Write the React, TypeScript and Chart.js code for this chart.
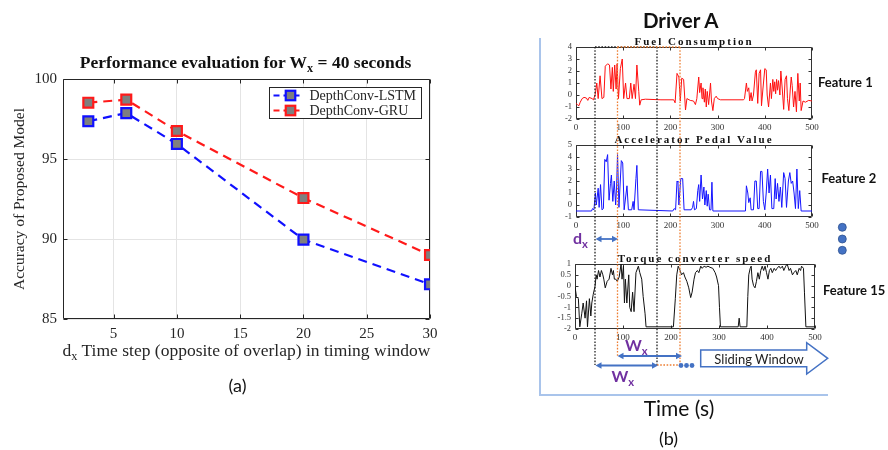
import React, { useEffect, useRef } from 'react';
import { Chart, registerables } from 'chart.js';
Chart.register(...registerables);

// ---------- Panel (a) data ----------
const dxSteps = [3, 6, 10, 20, 30];
const lstmAccuracy = [97.36, 97.87, 95.94, 89.96, 87.17];
const gruAccuracy = [98.52, 98.71, 96.75, 92.56, 89.0];
const seriesLabels = ['DepthConv-LSTM', 'DepthConv-GRU'];
const mainXTicks = [5, 10, 15, 20, 25, 30];
const mainYTicks = [85, 90, 95, 100];

// ---------- Panel (b) data ----------
const panelXTicks = [0, 100, 200, 300, 400, 500];
const fuelYTicks = [-2, -1, 0, 1, 2, 3, 4];
const pedalYTicks = [-1, 0, 1, 2, 3, 4, 5];
const torqueYTicks = [-2, -1.5, -1, -0.5, 0, 0.5, 1];

const fuelTime = [0, 3, 6, 9, 13, 17, 22, 25, 28, 34, 37, 41, 44, 47, 51, 55, 59, 62, 67, 71, 74, 77, 79, 82, 85, 87, 90, 94, 98, 101, 105, 108, 113, 116, 119, 123, 126, 129, 133, 135, 138, 147, 180, 207, 210, 214, 218, 221, 224, 228, 232, 235, 242, 249, 253, 256, 260, 262, 265, 267, 269, 272, 274, 276, 278, 281, 285, 287, 290, 293, 297, 300, 306, 355, 357, 361, 363, 366, 368, 371, 373, 376, 380, 382, 385, 388, 391, 393, 396, 400, 403, 405, 408, 412, 414, 417, 419, 421, 423, 425, 427, 429, 432, 434, 437, 440, 443, 446, 448, 451, 454, 456, 458, 461, 464, 467, 470, 473, 475, 477, 481, 486, 493, 500];
const fuelValue = [-0.7, -0.8, -0.9, -0.6, -0.3, -0.2, -0.25, -0.45, -0.2, -0.3, -0.4, 0.1, 1.0, -0.3, 1.6, -0.3, -0.2, 2.4, 2.6, 2.5, 0.5, 2.3, 0.3, 2.5, 0.5, 2.6, -0.3, 2.2, 3.0, -0.3, 1.0, -0.3, -0.3, 1.0, -0.3, 0.9, -0.3, 2.5, 0.3, -0.85, -0.4, -0.35, -0.4, -0.4, -0.65, 1.8, 1.5, -0.5, 1.4, 1.3, -1.25, -0.3, -0.45, -0.5, -0.8, -0.3, 1.5, 0.2, 1.0, -0.3, 0.6, -0.6, 0.5, -1.0, 0.3, -0.8, 1.0, -0.5, -1.3, -0.3, -0.1, -0.3, -0.4, -0.4, -0.3, 1.0, 0.3, 0.6, -0.5, 0.2, -0.5, 0.0, 1.9, 2.1, -0.7, 1.8, 2.1, -0.9, 0.5, 2.2, 2.1, 0.0, -1.0, 1.0, -0.3, 1.3, 0.3, 1.1, 0.1, 1.3, 0.4, 1.2, 0.0, 2.0, 0.5, -1.2, 1.3, 1.6, -0.3, -1.3, 0.5, 1.5, 0.8, -1.0, 0.3, -1.4, 1.8, -0.5, 1.0, -1.3, -0.5, -0.6, -0.45, -0.5];

const pedalTime = [0, 33, 35, 38, 41, 43, 47, 49, 52, 55, 58, 61, 64, 67, 70, 73, 75, 78, 81, 84, 86, 88, 91, 96, 99, 102, 108, 111, 118, 121, 123, 127, 129, 132, 205, 208, 211, 214, 216, 218, 222, 226, 229, 244, 247, 249, 251, 255, 258, 260, 262, 265, 268, 271, 273, 276, 278, 280, 283, 286, 288, 290, 359, 361, 364, 366, 369, 371, 376, 379, 382, 385, 388, 391, 394, 397, 400, 403, 406, 409, 412, 415, 419, 422, 424, 427, 430, 433, 436, 440, 443, 446, 450, 453, 456, 459, 462, 465, 468, 471, 474, 477, 500];
const pedalValue = [-0.5, -0.5, -0.3, -0.4, 1.0, 0.0, 1.4, -0.2, 1.7, -0.4, -0.3, 3.8, 3.6, 4.2, 0.4, 1.8, 2.5, 0.3, 2.0, 0.0, 1.5, 4.2, -0.2, 3.7, 3.5, -0.4, 1.6, -0.4, -0.4, 0.3, -0.4, 2.2, 3.3, -0.4, -0.5, -0.3, -0.4, 2.0, 1.9, 0.0, 2.2, 2.2, -0.4, -0.4, -0.2, 0.3, -0.4, -0.3, 1.2, 1.7, 0.3, 2.5, 0.5, 1.5, 0.0, 1.2, -0.1, 0.9, -0.4, -0.4, 1.9, -0.5, -0.5, 1.6, 1.0, 0.2, 0.6, -0.4, -0.4, 2.0, 2.0, -0.3, -0.3, 2.8, 2.8, 0.3, -0.4, 1.0, 3.0, 1.0, 2.5, -0.3, -0.3, 2.2, 0.5, 1.8, 0.3, 1.5, -0.2, 2.7, 2.2, -0.2, 2.0, 2.7, 1.8, 2.0, 1.0, -0.3, 3.0, -0.3, 1.2, -0.5, -0.5];

const torqueTime = [0, 3, 7, 10, 14, 17, 21, 24, 26, 30, 33, 35, 38, 42, 44, 46, 49, 52, 55, 58, 60, 63, 67, 71, 75, 78, 80, 82, 85, 88, 92, 96, 98, 101, 103, 105, 108, 112, 114, 117, 120, 123, 127, 132, 135, 139, 142, 146, 148, 205, 209, 212, 215, 219, 222, 226, 229, 233, 237, 241, 244, 248, 251, 255, 258, 262, 265, 269, 273, 277, 281, 287, 292, 295, 299, 301, 303, 340, 342, 344, 358, 360, 362, 365, 367, 369, 372, 375, 378, 381, 384, 387, 390, 393, 396, 399, 402, 405, 408, 411, 415, 418, 421, 425, 428, 432, 435, 439, 442, 446, 449, 453, 456, 460, 463, 467, 470, 472, 476, 478, 481, 500];
const torqueValue = [-0.05, -0.5, -0.6, -1.9, -1.3, -0.8, -1.5, -0.7, -1.9, -0.6, -1.4, -0.8, -0.4, 0.0, 0.5, 0.3, 0.7, 0.4, 0.7, 0.5, 0.3, -0.1, 0.2, 0.3, 0.8, 0.5, 0.7, 0.3, 0.3, 0.2, 0.4, 1.0, 0.3, 0.9, -0.8, 0.3, -0.8, 0.5, -1.0, -1.2, -0.3, -1.2, 0.6, 0.9, 0.6, 0.3, -0.5, -1.3, -1.9, -1.9, -0.6, 0.5, 0.9, 0.7, 0.5, 0.6, 0.4, 0.2, -0.1, -0.55, -0.3, 0.3, 0.6, 0.7, 0.6, 0.9, 0.8, 0.9, 0.85, 0.9, 0.85, 0.8, 0.6, 0.4, 0.0, -1.0, -1.9, -1.9, -1.5, -1.9, -1.9, -0.5, 0.5, 0.8, 0.9, 0.3, 0.0, -0.1, 0.2, 0.6, 0.3, 0.7, 0.9, 0.7, 0.9, 0.6, 0.3, 0.7, 0.8, 0.6, 0.8, 0.7, 0.8, 0.9, 0.8, 0.9, 0.7, 0.9, 1.0, 0.7, 0.8, 0.5, 0.6, 0.7, 0.5, 0.8, 0.7, 0.9, 0.8, -0.3, -1.9, -1.9];

const pts = (xs: number[], ys: number[]) => xs.map((x, i) => ({ x, y: ys[i] }));

// ---------- plugins ----------
const boxPlugin = {
  id: 'boxTicks',
  beforeDatasetsDraw(chart: any) {
    const o = chart.options.plugins.boxTicks;
    if (!o) return;
    const { ctx, chartArea: a, scales } = chart;
    const L = Math.round(a.left) + 0.5, R = Math.round(a.right) - 0.5;
    const T = Math.round(a.top) + 0.5, B = Math.round(a.bottom) - 0.5;
    ctx.save();
    ctx.strokeStyle = o.color;
    ctx.lineWidth = o.width;
    ctx.beginPath();
    ctx.rect(L, T, R - L, B - T);
    ctx.stroke();
    ctx.beginPath();
    scales.x.ticks.forEach((t: any) => {
      const px = Math.round(scales.x.getPixelForValue(t.value)) + 0.5;
      ctx.moveTo(px, B); ctx.lineTo(px, B - o.len);
      ctx.moveTo(px, T); ctx.lineTo(px, T + o.len);
    });
    scales.y.ticks.forEach((t: any) => {
      const py = Math.round(scales.y.getPixelForValue(t.value)) + 0.5;
      ctx.moveTo(L, py); ctx.lineTo(L + o.len, py);
      ctx.moveTo(R, py); ctx.lineTo(R - o.len, py);
    });
    ctx.stroke();
    ctx.restore();
  },
};

const panelTitlePlugin = {
  id: 'panelTitle',
  afterDraw(chart: any) {
    const o = chart.options.plugins.panelTitle;
    if (!o) return;
    const { ctx, chartArea: a } = chart;
    ctx.save();
    ctx.font = o.font;
    (ctx as any).letterSpacing = o.spacing;
    ctx.fillStyle = o.color;
    ctx.textAlign = 'center';
    ctx.textBaseline = 'middle';
    ctx.fillText(o.text, (a.left + a.right) / 2, a.top + o.offset);
    ctx.restore();
  },
};

const insideLegendPlugin = {
  id: 'insideLegend',
  afterDraw(chart: any) {
    const o = chart.options.plugins.insideLegend;
    if (!o) return;
    const { ctx, chartArea: a } = chart;
    const x0 = Math.round(a.right - o.right - o.width) + 0.5;
    const y0 = Math.round(a.top + o.top) + 0.5;
    ctx.save();
    ctx.fillStyle = '#ffffff';
    ctx.fillRect(x0, y0, o.width, o.height);
    ctx.strokeStyle = o.borderColor;
    ctx.lineWidth = 1;
    ctx.strokeRect(x0, y0, o.width, o.height);
    chart.data.datasets.forEach((ds: any, i: number) => {
      const cy = y0 + o.rowTop + i * o.rowGap;
      ctx.setLineDash([6, 4]);
      ctx.strokeStyle = ds.borderColor;
      ctx.lineWidth = ds.borderWidth;
      ctx.beginPath();
      ctx.moveTo(x0 + 4, cy);
      ctx.lineTo(x0 + 32, cy);
      ctx.stroke();
      ctx.setLineDash([]);
      const s = o.marker, mx = x0 + 21;
      ctx.fillStyle = ds.pointBackgroundColor;
      ctx.fillRect(mx - s / 2, cy - s / 2, s, s);
      ctx.lineWidth = ds.pointBorderWidth;
      ctx.strokeStyle = ds.pointBorderColor;
      ctx.strokeRect(mx - s / 2, cy - s / 2, s, s);
      ctx.fillStyle = o.color;
      ctx.font = o.font;
      ctx.textBaseline = 'middle';
      ctx.textAlign = 'left';
      ctx.fillText(ds.label, x0 + o.textLeft, cy + 1);
    });
    ctx.restore();
  },
};

const SERIF = '"Liberation Serif", "Times New Roman", serif';
const SANS = 'Lato, "Open Sans", sans-serif';
const BLUE = '#1010ff';
const RED = '#ff1a1a';

function mainConfig(): any {
  const tickFont = { family: SERIF, size: 15 };
  return {
    type: 'line',
    data: {
      datasets: [
        {
          label: seriesLabels[0], data: pts(dxSteps, lstmAccuracy), borderColor: BLUE, borderWidth: 2.2,
          borderDash: [9, 6], pointStyle: 'rect', pointRadius: 7, pointHoverRadius: 7, pointBorderWidth: 2.2,
          pointBackgroundColor: '#7f7f7f', pointBorderColor: BLUE, tension: 0, fill: false,
        },
        {
          label: seriesLabels[1], data: pts(dxSteps, gruAccuracy), borderColor: RED, borderWidth: 2.2,
          borderDash: [9, 6], pointStyle: 'rect', pointRadius: 7, pointHoverRadius: 7, pointBorderWidth: 2.2,
          pointBackgroundColor: '#7f7f7f', pointBorderColor: RED, tension: 0, fill: false,
        },
      ],
    },
    options: {
      animation: false, responsive: false, events: [],
      layout: { padding: { top: 79, right: 20, bottom: 31, left: 0 } },
      scales: {
        x: {
          type: 'linear', min: 1, max: 30,
          afterBuildTicks: (s: any) => { s.ticks = mainXTicks.map((v) => ({ value: v })); },
          afterFit: (s: any) => { s.height = 50; },
          grid: { color: '#e4e4e4', drawTicks: false, lineWidth: 1 },
          border: { display: false },
          ticks: { padding: 6, color: '#262626', font: tickFont, autoSkip: false, maxRotation: 0 },
        },
        y: {
          type: 'linear', min: 85, max: 100,
          afterBuildTicks: (s: any) => { s.ticks = mainYTicks.map((v) => ({ value: v })); },
          afterFit: (s: any) => { s.width = 63; },
          grid: { color: '#e4e4e4', drawTicks: false, lineWidth: 1 },
          border: { display: false },
          ticks: { padding: 6, color: '#262626', font: tickFont, autoSkip: false },
          title: {
            display: true, text: 'Accuracy of Proposed Model', color: '#262626',
            font: { family: SERIF, size: 15.5 }, padding: { top: 11, bottom: 0 },
          },
        },
      },
      plugins: {
        legend: { display: false }, tooltip: { enabled: false }, title: { display: false },
        boxTicks: { color: '#262626', width: 1, len: 4 },
        insideLegend: {
          width: 152, height: 31, right: 9, top: 8, rowTop: 8, rowGap: 15, marker: 9.5,
          textLeft: 40, borderColor: '#262626', color: '#262626', font: `14px ${SERIF}`,
        },
      },
    },
    plugins: [boxPlugin, insideLegendPlugin],
  };
}

type PanelSpec = {
  title: string; times: number[]; values: number[]; color: string; yTicks: number[];
  plotLeft: number; plotTop: number; plotW: number; plotH: number;
};

const PAD_L = 28, PAD_T = 14, PAD_R = 10, PAD_B = 16;

function panelConfig(p: PanelSpec): any {
  const tickFont = { family: SERIF, size: 9 };
  return {
    type: 'line',
    data: {
      datasets: [{
        data: pts(p.times, p.values), borderColor: p.color, borderWidth: 1, pointRadius: 0,
        tension: 0, fill: false,
      }],
    },
    options: {
      animation: false, responsive: false, events: [],
      layout: { padding: { top: PAD_T, right: PAD_R, bottom: 0, left: 0 } },
      scales: {
        x: {
          type: 'linear', min: 0, max: 500,
          afterBuildTicks: (s: any) => { s.ticks = panelXTicks.map((v) => ({ value: v })); },
          afterFit: (s: any) => { s.height = PAD_B; },
          grid: { display: false, drawTicks: false }, border: { display: false },
          ticks: { padding: 3, color: '#333', font: tickFont, maxRotation: 0, autoSkip: false },
        },
        y: {
          type: 'linear', min: p.yTicks[0], max: p.yTicks[p.yTicks.length - 1],
          afterBuildTicks: (s: any) => { s.ticks = p.yTicks.map((v) => ({ value: v })); },
          afterFit: (s: any) => { s.width = PAD_L; },
          grid: { display: false, drawTicks: false }, border: { display: false },
          ticks: {
            padding: 4, color: '#333', font: { family: SERIF, size: 8.5 }, autoSkip: false,
            callback: (v: any) => String(v),
          },
        },
      },
      plugins: {
        legend: { display: false }, tooltip: { enabled: false },
        boxTicks: { color: '#333', width: 1, len: 3 },
        panelTitle: { text: p.title, font: `bold 11px ${SERIF}`, spacing: '2px', color: '#111', offset: -5 },
      },
    },
    plugins: [boxPlugin, panelTitlePlugin],
  };
}

const panels: PanelSpec[] = [
  { title: 'Fuel Consumption', times: fuelTime, values: fuelValue, color: '#ff1010', yTicks: fuelYTicks, plotLeft: 576, plotTop: 47, plotW: 236, plotH: 72 },
  { title: 'Accelerator Pedal Value', times: pedalTime, values: pedalValue, color: '#1414ff', yTicks: pedalYTicks, plotLeft: 576, plotTop: 145, plotW: 236, plotH: 72 },
  { title: 'Torque converter speed', times: torqueTime, values: torqueValue, color: '#111111', yTicks: torqueYTicks, plotLeft: 575, plotTop: 264, plotW: 240, plotH: 65 },
];

type TxtProps = { x: number; y: number; left?: boolean; style?: React.CSSProperties; children: React.ReactNode };
function Txt({ x, y, left, style, children }: TxtProps) {
  return (
    <div style={{
      position: 'absolute', left: x, top: y, transform: left ? 'translate(0,-50%)' : 'translate(-50%,-50%)',
      whiteSpace: 'nowrap', lineHeight: 1, ...style,
    }}>{children}</div>
  );
}
function Sub({ children }: { children: React.ReactNode }) {
  return <span style={{ position: 'relative', top: '0.38em', fontSize: '0.7em' }}>{children}</span>;
}

const ABLUE = '#4472c4';
function DoubleArrow({ x1, x2, y }: { x1: number; x2: number; y: number }) {
  const h = 6, w = 3.2;
  return (
    <g>
      <line x1={x1 + h - 1} y1={y} x2={x2 - h + 1} y2={y} stroke={ABLUE} strokeWidth={1.8} />
      <polygon points={`${x1},${y} ${x1 + h},${y - w} ${x1 + h},${y + w}`} fill={ABLUE} />
      <polygon points={`${x2},${y} ${x2 - h},${y - w} ${x2 - h},${y + w}`} fill={ABLUE} />
    </g>
  );
}

export default function App() {
  const mainRef = useRef<HTMLCanvasElement>(null);
  const p0 = useRef<HTMLCanvasElement>(null);
  const p1 = useRef<HTMLCanvasElement>(null);
  const p2 = useRef<HTMLCanvasElement>(null);
  const panelRefs = [p0, p1, p2];

  useEffect(() => {
    const charts: Chart[] = [];
    if (mainRef.current) charts.push(new Chart(mainRef.current, mainConfig()));
    panels.forEach((p, i) => {
      const c = panelRefs[i].current;
      if (c) charts.push(new Chart(c, panelConfig(p)));
    });
    return () => charts.forEach((c) => c.destroy());
  }, []);

  const dot = { strokeDasharray: '1.6 1.6', strokeWidth: 1.3, fill: 'none' } as const;
  const purple = { color: '#7030a0', fontFamily: SANS, fontWeight: 700 } as const;

  return (
    <div style={{ position: 'absolute', left: 0, top: 0, width: 888, height: 450, background: '#fff', overflow: 'hidden' }}>
      <canvas ref={mainRef} width={450} height={400} style={{ position: 'absolute', left: 0, top: 0 }} />
      {panels.map((p, i) => (
        <canvas
          key={p.title}
          ref={panelRefs[i]}
          width={p.plotW + PAD_L + PAD_R}
          height={p.plotH + PAD_T + PAD_B}
          style={{ position: 'absolute', left: p.plotLeft - PAD_L, top: p.plotTop - PAD_T }}
        />
      ))}
      <svg width={888} height={450} style={{ position: 'absolute', left: 0, top: 0, pointerEvents: 'none' }}>
        <polyline points="540,38 540,395 828,395" fill="none" stroke="#a9c4eb" strokeWidth={2} />
        {/* black dotted window */}
        <line x1={595} y1={47} x2={595} y2={365} stroke="#222" {...dot} />
        <line x1={657} y1={47} x2={657} y2={365} stroke="#222" {...dot} />
        <line x1={595} y1={47} x2={657} y2={47} stroke="#222" {...dot} />
        {/* orange dotted window */}
        <line x1={617.5} y1={47} x2={617.5} y2={356} stroke="#ed7d31" {...dot} />
        <line x1={680} y1={47} x2={680} y2={365} stroke="#ed7d31" {...dot} />
        <line x1={617.5} y1={47} x2={680} y2={47} stroke="#ed7d31" {...dot} />
        <line x1={657} y1={365} x2={680} y2={365} stroke="#ed7d31" {...dot} />
        <DoubleArrow x1={595.5} x2={618} y={239} />
        <DoubleArrow x1={617.5} x2={682} y={356} />
        <DoubleArrow x1={595.5} x2={658} y={365.5} />
        <circle cx={681} cy={365.5} r={2.4} fill={ABLUE} />
        <circle cx={686.5} cy={365.5} r={2.4} fill={ABLUE} />
        <circle cx={692} cy={365.5} r={2.4} fill={ABLUE} />
        <circle cx={842.3} cy={227.3} r={4} fill={ABLUE} stroke="#2f528f" strokeWidth={0.8} />
        <circle cx={842.3} cy={239} r={4} fill={ABLUE} stroke="#2f528f" strokeWidth={0.8} />
        <circle cx={842.3} cy={250.3} r={4} fill={ABLUE} stroke="#2f528f" strokeWidth={0.8} />
        <polygon
          points="700.7,350 806.7,350 806.7,342.7 827.7,358.3 806.7,374 806.7,366.7 700.7,366.7"
          fill="#fff" stroke={ABLUE} strokeWidth={1.5}
        />
      </svg>

      <Txt x={245.5} y={62.7} style={{ fontFamily: SERIF, fontWeight: 700, fontSize: 17.5, color: '#111' }}>
        Performance evaluation for W<Sub>x</Sub> = 40 seconds
      </Txt>
      <Txt x={246.5} y={350.5} style={{ fontFamily: SERIF, fontSize: 17.5, color: '#262626' }}>
        d<Sub>x</Sub> Time step (opposite of overlap) in timing window
      </Txt>
      <Txt x={237.5} y={385} style={{ fontFamily: SANS, fontSize: 18, color: '#111' }}>(a)</Txt>

      <Txt x={680.7} y={20} style={{ fontFamily: SANS, fontWeight: 700, fontSize: 20.5, color: '#111' }}>Driver A</Txt>
      <Txt x={818} y={82} left style={{ fontFamily: SANS, fontWeight: 700, fontSize: 13, color: '#111' }}>Feature 1</Txt>
      <Txt x={821.5} y={178} left style={{ fontFamily: SANS, fontWeight: 700, fontSize: 13, color: '#111' }}>Feature 2</Txt>
      <Txt x={823} y={290} left style={{ fontFamily: SANS, fontWeight: 700, fontSize: 13, color: '#111' }}>Feature 15</Txt>
      <Txt x={573} y={238} left style={{ ...purple, fontSize: 16 }}>d<Sub>x</Sub></Txt>
      <Txt x={625} y={344.5} left style={{ ...purple, fontSize: 16 }}>W<Sub>x</Sub></Txt>
      <Txt x={611.5} y={376} left style={{ ...purple, fontSize: 16 }}>W<Sub>x</Sub></Txt>
      <Txt x={759} y={359.3} style={{ fontFamily: SANS, fontSize: 13, color: '#222' }}>Sliding Window</Txt>
      <Txt x={679} y={406.7} style={{ fontFamily: SANS, fontSize: 21, color: '#111' }}>Time (s)</Txt>
      <Txt x={668.5} y={438} style={{ fontFamily: SANS, fontSize: 18, color: '#111' }}>(b)</Txt>
    </div>
  );
}
